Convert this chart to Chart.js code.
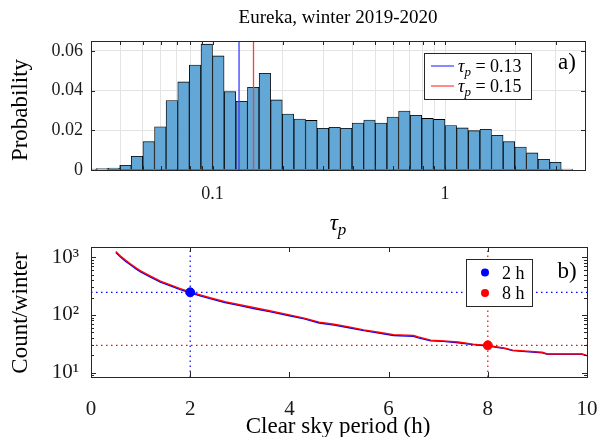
<!DOCTYPE html>
<html>
<head>
<meta charset="utf-8">
<script src="https://cdn.jsdelivr.net/npm/chart.js@4.4.0/dist/chart.umd.min.js"></script>
<style>
  html, body { margin: 0; padding: 0; background: #fff; }
  #wrap { position: relative; width: 598px; height: 437px; }
  canvas { position: absolute; left: 0; top: 0; }
</style>
</head>
<body>
<div id="wrap">
  <canvas id="histChart" width="598" height="437"></canvas>
  <canvas id="periodChart" width="598" height="437"></canvas>
</div>
<script>
// ---- panel a) histogram of tau_p (log bins, 0.05 decade wide) ----
const binCenters = [0.0299, 0.0335, 0.0376, 0.0422, 0.0473, 0.0531, 0.0596, 0.0668, 0.0750, 0.0841,
  0.0944, 0.1059, 0.1189, 0.1334, 0.1496, 0.1679, 0.1884, 0.2113, 0.2371, 0.2661,
  0.2985, 0.3350, 0.3758, 0.4217, 0.4732, 0.5309, 0.5957, 0.6683, 0.7499, 0.8414,
  0.9441, 1.0593, 1.1885, 1.3335, 1.4962, 1.6788, 1.8836, 2.1135, 2.3714, 2.6607,
  2.9854, 3.3497];
const probability = [0.0005, 0.0007, 0.0010, 0.0024, 0.0069, 0.0143, 0.0218, 0.0350, 0.0444, 0.0529,
  0.0634, 0.0575, 0.0395, 0.0346, 0.0417, 0.0487, 0.0353, 0.0282, 0.0257, 0.0250,
  0.0210, 0.0215, 0.0210, 0.0237, 0.0252, 0.0237, 0.0267, 0.0297, 0.0276, 0.0260,
  0.0255, 0.0224, 0.0212, 0.0198, 0.0205, 0.0175, 0.0143, 0.0116, 0.0086, 0.0054,
  0.0039, 0.0005];
const tauThresholds = [0.13, 0.15];
const tauRange = [0.03, 4];
const probRange = [0, 0.065];
const tauTicks = [0.03, 0.04, 0.05, 0.06, 0.07, 0.08, 0.09, 0.1, 0.2, 0.3, 0.4, 0.5, 0.6, 0.7, 0.8, 0.9, 1, 2, 3, 4];
const tauLabelled = [0.1, 1];
const probTicks = [0, 0.02, 0.04, 0.06];

// ---- panel b) count of clear sky periods per winter ----
const periodHours = [0.5, 0.6, 0.7, 0.8, 0.9, 1.0, 1.2, 1.4, 1.6, 1.8, 2.0, 2.2, 2.4, 2.7, 3.0, 3.3, 3.6, 4.0, 4.3, 4.6,
  4.9, 5.2, 5.5, 5.8, 6.1, 6.5, 6.6, 6.85, 7.1, 7.4, 7.7, 8.0, 8.35, 8.5, 9.1, 9.2, 9.9, 10.0];
const count8h = [1250, 1040, 880, 760, 660, 580, 470, 385, 330, 285, 250, 222, 198, 170, 150, 133, 118, 100, 88, 75,
  69, 62, 55, 50, 45.5, 44, 41.5, 36.5, 35.5, 34, 31.2, 29.7, 26.5, 24.5, 22.5, 21, 21, 19.7];
const count2h = [1200, 1000, 845, 730, 635, 557, 452, 370, 317, 274, 242, 214, 191, 164, 145, 128, 114, 96.5, 85.5, 72.5,
  67, 60, 53.5, 48.5, 44, 42.5, 40, 35.5, 34.8, 33, 30.5, 29, 26, 24, 22, 20.8, 20.8, 19.7];
const markHours = [2, 8];
const markCounts = [246, 29.7];
const hourRange = [0, 10];
const countRange = [8.4, 1500];
const hourTicks = [0, 2, 4, 6, 8, 10];
const countTicks = [10, 100, 1000];
const countMinor = [9, 20, 30, 40, 50, 60, 70, 80, 90, 200, 300, 400, 500, 600, 700, 800, 900];

const SERIF = "'Liberation Serif', 'Times New Roman', serif";
const BLUE = 'rgb(0,0,255)';
const RED = 'rgb(255,0,0)';

// draws mixed roman / italic / subscript text at baseline y
function drawMath(ctx, parts, x, y, size, align) {
  const fontOf = p => (p.it ? 'italic ' : '') + Math.round(p.sub ? size * 0.72 : size) + 'px ' + SERIF;
  let w = 0;
  parts.forEach(p => { ctx.font = fontOf(p); w += ctx.measureText(p.t).width; });
  let cx = align === 'center' ? x - w / 2 : x;
  ctx.textAlign = 'left';
  ctx.textBaseline = 'alphabetic';
  parts.forEach(p => {
    ctx.font = fontOf(p);
    ctx.fillText(p.t, cx, p.sub ? y + size * 0.22 : y);
    cx += ctx.measureText(p.t).width;
  });
}

// box round the axes plus inward ticks on all sides (MATLAB style)
const boxPlugin = {
  id: 'box',
  afterDatasetsDraw(chart, args, o) {
    const { ctx, chartArea: a, scales } = chart;
    ctx.save();
    ctx.strokeStyle = '#262626';
    ctx.lineWidth = 1;
    ctx.beginPath();
    const xt = (list, len) => list.forEach(v => {
      const px = Math.round(scales.x.getPixelForValue(v)) + 0.5;
      ctx.moveTo(px, a.bottom); ctx.lineTo(px, a.bottom - len);
      ctx.moveTo(px, a.top); ctx.lineTo(px, a.top + len);
    });
    const yt = (list, len) => list.forEach(v => {
      const py = Math.round(scales.y.getPixelForValue(v)) + 0.5;
      ctx.moveTo(a.left, py); ctx.lineTo(a.left + len, py);
      ctx.moveTo(a.right, py); ctx.lineTo(a.right - len, py);
    });
    xt(o.xMajor || [], o.majorLen);
    xt(o.xMinor || [], o.minorLen);
    yt(o.yMajor || [], o.majorLen);
    yt(o.yMinor || [], o.minorLen);
    ctx.stroke();
    ctx.strokeRect(Math.round(a.left) + 0.5, Math.round(a.top) + 0.5,
      Math.round(a.right - a.left), Math.round(a.bottom - a.top));
    ctx.restore();
  }
};

// axis titles, panel letters and legend boxes
const notesPlugin = {
  id: 'notes',
  afterDraw(chart, args, o) {
    const ctx = chart.ctx;
    ctx.save();
    ctx.fillStyle = '#000';
    (o.texts || []).forEach(t => {
      ctx.save();
      ctx.translate(t.x, t.y);
      if (t.rot) ctx.rotate(t.rot);
      ctx.font = t.size + 'px ' + SERIF;
      ctx.textAlign = 'center';
      ctx.textBaseline = 'middle';
      ctx.fillText(t.text, 0, 0);
      ctx.restore();
    });
    (o.maths || []).forEach(m => drawMath(ctx, m.parts, m.x, m.y, m.size, m.align));
    const lg = o.legend;
    if (lg) {
      ctx.fillStyle = '#fff';
      ctx.fillRect(lg.x, lg.y, lg.w, lg.h);
      ctx.strokeStyle = '#262626';
      ctx.lineWidth = 1;
      ctx.strokeRect(lg.x + 0.5, lg.y + 0.5, lg.w, lg.h);
      lg.items.forEach((it, i) => {
        const cy = lg.y + lg.first + i * lg.step;
        if (it.kind === 'line') {
          ctx.strokeStyle = it.color;
          ctx.lineWidth = 1.2;
          ctx.beginPath();
          ctx.moveTo(lg.x + 7, cy); ctx.lineTo(lg.x + 30, cy);
          ctx.stroke();
        } else {
          ctx.fillStyle = it.color;
          ctx.beginPath();
          ctx.arc(lg.x + 19, cy, 4, 0, Math.PI * 2);
          ctx.fill();
        }
        ctx.fillStyle = '#000';
        drawMath(ctx, it.parts, lg.x + lg.textX, cy + 6, lg.size, 'left');
      });
    }
    ctx.restore();
  }
};

const tickFont = size => ({ family: SERIF, size: size });
const noPadX = s => { s.paddingLeft = 0; s.paddingRight = 0; };
const noPadY = s => { s.paddingTop = 0; s.paddingBottom = 0; };

new Chart(document.getElementById('histChart'), {
  data: {
    datasets: [
      {
        type: 'line', xAxisID: 'x', yAxisID: 'y',
        data: [{ x: tauThresholds[0], y: probRange[0] }, { x: tauThresholds[0], y: probRange[1] }],
        borderColor: 'rgb(60,60,255)', borderWidth: 1.3, pointRadius: 0
      },
      {
        type: 'line', xAxisID: 'x', yAxisID: 'y',
        data: [{ x: tauThresholds[1], y: probRange[0] }, { x: tauThresholds[1], y: probRange[1] }],
        borderColor: 'rgb(255,60,60)', borderWidth: 1.3, pointRadius: 0
      },
      {
        type: 'bar', xAxisID: 'xb', yAxisID: 'y',
        data: binCenters.map((c, i) => ({ x: c, y: probability[i] })),
        backgroundColor: '#62a7d5', borderColor: '#000', borderWidth: 0.85,
        borderSkipped: false, grouped: false, barPercentage: 1, categoryPercentage: 1
      }
    ]
  },
  options: {
    responsive: false,
    animation: false,
    layout: { padding: { left: 0, top: 0, right: 13, bottom: 192 } },
    scales: {
      x: {
        type: 'logarithmic', min: tauRange[0], max: tauRange[1],
        afterBuildTicks: s => { s.ticks = tauTicks.map(v => ({ value: v })); },
        afterFit: s => { s.height = 75; noPadX(s); },
        grid: { color: '#e4e4e4', drawTicks: false },
        border: { display: false },
        ticks: {
          autoSkip: false, maxRotation: 0, padding: 13, color: '#1a1a1a', font: tickFont(18),
          callback: v => tauLabelled.includes(v) ? String(v) : ''
        }
      },
      xb: {
        type: 'logarithmic', min: tauRange[0], max: tauRange[1], display: false,
        afterBuildTicks: s => { s.ticks = []; }
      },
      y: {
        type: 'linear', min: probRange[0], max: probRange[1],
        afterBuildTicks: s => { s.ticks = probTicks.map(v => ({ value: v })); },
        afterFit: s => { s.width = 91; noPadY(s); },
        grid: { color: '#e4e4e4', drawTicks: false },
        border: { display: false },
        ticks: {
          padding: 8, color: '#1a1a1a', font: tickFont(18),
          callback: v => v === 0 ? '0' : v.toFixed(2)
        }
      }
    },
    plugins: {
      legend: { display: false },
      tooltip: { enabled: false },
      title: {
        display: true, fullSize: false, text: 'Eureka, winter 2019-2020', color: '#000',
        font: { family: SERIF, size: 19, weight: 'normal', lineHeight: 1.2 },
        padding: { top: 7, bottom: 11.2 }
      },
      box: { xMajor: tauLabelled, xMinor: tauTicks, yMajor: probTicks, majorLen: 4, minorLen: 4 },
      notes: {
        texts: [
          { text: 'Probability', x: 21, y: 110, rot: -Math.PI / 2, size: 23 },
          { text: 'a)', x: 567, y: 63, size: 23 }
        ],
        maths: [
          { parts: [{ t: 'τ', it: true }, { t: 'p', it: true, sub: true }], x: 338, y: 230, size: 23, align: 'center' }
        ],
        legend: {
          x: 424, y: 53, w: 107, h: 46, first: 13, step: 20, textX: 34, size: 18,
          items: [
            { kind: 'line', color: 'rgb(60,60,255)', parts: [{ t: 'τ', it: true }, { t: 'p', it: true, sub: true }, { t: ' = 0.13' }] },
            { kind: 'line', color: 'rgb(255,60,60)', parts: [{ t: 'τ', it: true }, { t: 'p', it: true, sub: true }, { t: ' = 0.15' }] }
          ]
        }
      }
    }
  },
  plugins: [boxPlugin, notesPlugin]
});

const dotted = (color, pts) => ({
  data: pts, borderColor: color, borderWidth: 1.2, borderDash: [1.5, 3.5],
  pointRadius: 0, showLine: true, tension: 0
});

new Chart(document.getElementById('periodChart'), {
  type: 'line',
  data: {
    datasets: [
      { data: [{ x: markHours[0], y: markCounts[0] }], showLine: false, pointRadius: 4.5,
        pointBackgroundColor: BLUE, pointBorderColor: BLUE },
      { data: [{ x: markHours[1], y: markCounts[1] }], showLine: false, pointRadius: 4.5,
        pointBackgroundColor: RED, pointBorderColor: RED },
      { data: periodHours.map((h, i) => ({ x: h, y: count8h[i] })), borderColor: RED, borderWidth: 1.4, pointRadius: 0 },
      { data: periodHours.map((h, i) => ({ x: h, y: count2h[i] })), borderColor: BLUE, borderWidth: 1.4, pointRadius: 0 },
      dotted(BLUE, [{ x: hourRange[0], y: markCounts[0] }, { x: hourRange[1], y: markCounts[0] }]),
      dotted(BLUE, [{ x: markHours[0], y: countRange[0] }, { x: markHours[0], y: countRange[1] }]),
      dotted(RED, [{ x: hourRange[0], y: markCounts[1] }, { x: hourRange[1], y: markCounts[1] }]),
      dotted(RED, [{ x: markHours[1], y: countRange[0] }, { x: markHours[1], y: countRange[1] }])
    ]
  },
  options: {
    responsive: false,
    animation: false,
    layout: { padding: { left: 0, top: 247, right: 11, bottom: 0 } },
    scales: {
      x: {
        type: 'linear', min: hourRange[0], max: hourRange[1],
        afterBuildTicks: s => { s.ticks = hourTicks.map(v => ({ value: v })); },
        afterFit: s => { s.height = 60; noPadX(s); },
        grid: { display: false },
        border: { display: false },
        ticks: { autoSkip: false, maxRotation: 0, padding: 12, color: '#1a1a1a', font: tickFont(21) }
      },
      y: {
        type: 'logarithmic', min: countRange[0], max: countRange[1],
        afterBuildTicks: s => { s.ticks = countTicks.map(v => ({ value: v })); },
        afterFit: s => { s.width = 91; noPadY(s); },
        grid: { display: false },
        border: { display: false },
        ticks: {
          padding: 4, color: '#1a1a1a', font: tickFont(21),
          callback: v => '10' + ({ 1: '¹', 2: '²', 3: '³' })[Math.round(Math.log10(v))]
        }
      }
    },
    plugins: {
      legend: { display: false },
      tooltip: { enabled: false },
      box: { xMajor: hourTicks, yMajor: countTicks, yMinor: countMinor, majorLen: 5, minorLen: 3 },
      notes: {
        texts: [
          { text: 'Count/winter', x: 21, y: 313, rot: -Math.PI / 2, size: 23 },
          { text: 'Clear sky period (h)', x: 338, y: 427, size: 23 },
          { text: 'b)', x: 567, y: 272, size: 23 }
        ],
        legend: {
          x: 466, y: 259, w: 66, h: 47, first: 13.5, step: 20.5, textX: 36, size: 18,
          items: [
            { kind: 'dot', color: BLUE, parts: [{ t: '2 h' }] },
            { kind: 'dot', color: RED, parts: [{ t: '8 h' }] }
          ]
        }
      }
    }
  },
  plugins: [boxPlugin, notesPlugin]
});
</script>
</body>
</html>
